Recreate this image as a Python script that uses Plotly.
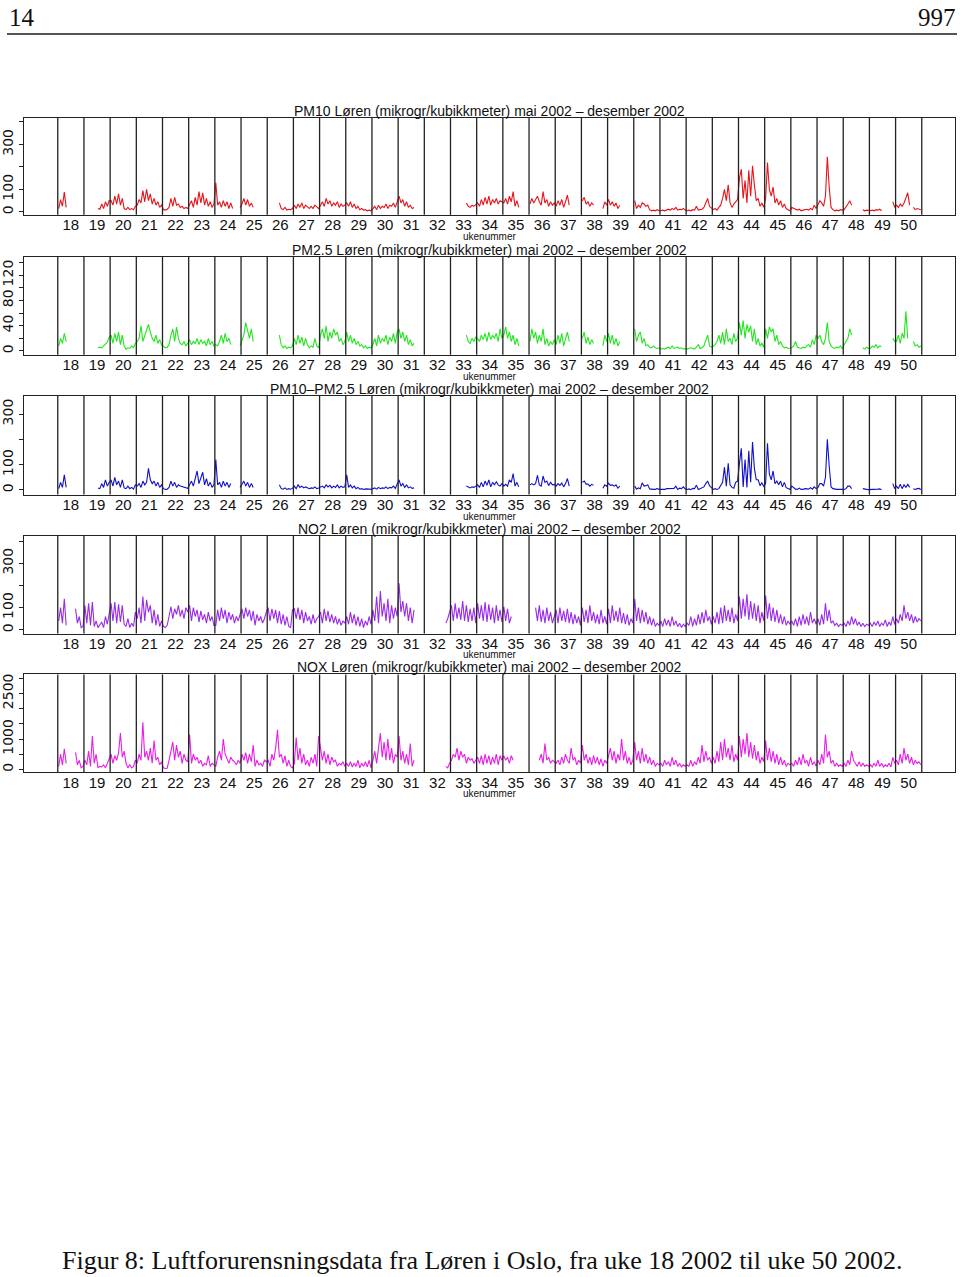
import plotly.graph_objects as go

FIRST_WEEK = 18
LAST_WEEK = 50
SLOTS = 14  # half-day readings per week, "." = missing

WEEK_LABELS = [str(w) for w in range(FIRST_WEEK, LAST_WEEK + 1)]

PM10 = [
    "15 55 25 88 20 . . . . . . . . .",
    ". . . . . . . 15 12 35 15 45 25 50",
    "50 30 70 35 80 30 60 15 10 20 10 15 10 25",
    "30 55 40 95 45 100 50 80 35 60 30 45 20 30",
    "10 8 12 20 60 25 65 30 35 20 25 15 20 15",
    "30 50 20 65 30 90 40 85 30 60 25 45 20 35",
    "130 30 45 20 50 25 45 15 40 15 . . . 20",
    "35 60 30 55 25 40 20 . . . . . . .",
    ". . . . . . 40 15 10 20 8 12 10 15",
    "30 15 35 20 40 15 30 20 15 25 15 30 20 15",
    "30 45 25 60 35 50 25 40 30 45 20 35 25 30",
    "40 25 45 20 35 15 25 10 15 8 10 5 8 5",
    "15 25 10 30 15 25 20 35 15 30 25 40 20 45",
    "70 40 55 25 45 20 30 15 20 . . . . .",
    ". . . . . . . . . . . . . .",
    ". . . . . . . . 40 25 20 30 25 35",
    "40 25 55 30 65 35 70 30 55 40 60 35 50 45",
    "40 60 35 70 45 90 25 50 20 . . . . .",
    "35 60 40 55 70 45 30 90 40 55 25 45 30 40",
    "25 50 30 55 20 45 75 30 . . . . . .",
    "50 65 35 45 25 40 30 . . . . 15 45 30",
    "55 30 45 25 40 15 30 . . . . . . .",
    "50 15 30 20 40 35 25 30 10 5 8 5 10 5",
    "5 8 5 10 12 8 15 10 20 8 12 10 15 8",
    "5 8 5 10 8 25 8 10 12 20 40 60 25 15",
    "10 15 8 20 30 60 100 50 120 40 20 35 45 55",
    "150 190 60 140 40 185 70 205 120 50 60 25 40 20",
    "60 220 100 70 110 40 60 30 50 20 35 15 10 5",
    "20 15 10 8 12 5 8 10 12 8 15 10 30 15",
    "30 50 40 25 70 245 110 20 10 5 8 5 10 8",
    "10 20 35 50 30 . . . . . 10 5 8 5",
    "5 8 5 10 8 12 5 . . . . . 45 20",
    "30 20 35 25 40 60 85 30 . 20 10 15 12 10",
]

PM25 = [
    "8 20 12 28 15 . . . . . . . . .",
    ". . . . . . . 5 6 5 8 10 14 22",
    "25 12 28 15 30 10 25 8 3 5 4 8 5 12",
    "15 20 40 15 25 35 42 30 20 15 25 12 18 10",
    "8 5 6 10 25 35 15 38 20 12 10 15 8 12",
    "18 10 15 12 20 10 18 12 15 8 20 10 15 8",
    "10 8 15 25 12 28 15 20 10 . . . . 8",
    "15 25 45 30 20 35 15 . . . . . . .",
    ". . . . . . 25 10 5 8 4 6 5 8",
    "20 10 25 12 22 8 20 10 5 8 6 20 8 5",
    "25 35 20 40 15 30 20 35 25 30 15 20 10 15",
    "30 15 25 12 20 10 15 8 10 5 8 4 6 5",
    "10 20 8 25 12 20 15 25 10 22 15 28 12 30",
    "35 20 30 15 25 10 18 8 12 . . . . .",
    ". . . . . . . . . . . . . .",
    ". . . . . . . . 25 15 12 20 15 22",
    "20 15 25 18 28 15 30 18 25 20 28 15 35 20",
    "25 38 20 30 15 25 10 20 8 . . . . .",
    "15 35 20 30 12 25 15 35 10 20 8 15 10 18",
    "10 25 12 28 8 20 30 15 . . . . . .",
    "20 30 12 22 10 18 12 . . . . 8 25 15",
    "28 12 25 10 20 8 15 . . . . . . .",
    "35 15 25 30 12 20 8 10 6 5 8 5 4 5",
    "3 4 3 5 6 4 8 4 5 6 4 5 3 4",
    "3 4 5 4 3 6 10 4 5 8 15 25 8 6",
    "8 10 15 25 12 30 10 35 15 20 10 28 15 20",
    "45 25 48 20 42 30 40 15 35 10 20 8 12 6",
    "35 20 38 30 35 15 25 10 15 8 5 6 4 5",
    "5 8 15 6 5 4 6 5 8 10 6 18 10 25",
    "20 25 15 10 20 45 15 8 5 4 6 5 8 4",
    "10 15 20 35 25 . . . . . 5 3 6 4",
    "4 8 6 10 5 8 7 . . . . . 20 15",
    "15 25 12 28 20 63 20 . . 15 8 10 6 8",
]

PM_COARSE = [
    "5 30 10 60 10 . . . . . . . . .",
    ". . . . . . . 8 5 25 10 40 15 30",
    "40 15 50 20 35 10 40 8 5 15 5 10 3 20",
    "15 25 10 35 20 30 85 40 25 35 15 30 10 20",
    "5 2 3 10 35 15 30 10 20 15 12 10 8 6",
    "20 35 15 40 75 25 50 70 20 45 15 30 10 20",
    "120 20 30 10 35 15 30 10 25 . . . . 10",
    "20 35 15 30 10 25 10 . . . . . . .",
    ". . . . . . 20 5 3 8 2 5 3 6",
    "15 5 20 10 15 8 12 10 5 8 6 12 5 8",
    "10 15 8 20 12 18 8 15 10 20 8 15 10 12",
    "60 10 20 8 15 5 10 3 5 2 4 2 3 2",
    "5 8 3 10 5 8 6 12 5 10 8 15 6 20",
    "40 15 25 10 20 8 12 6 8 . . . . .",
    ". . . . . . . . . . . . . .",
    ". . . . . . . . 15 10 8 12 10 15",
    "20 10 30 12 35 18 40 12 30 20 32 20 15 25",
    "15 22 15 40 30 65 15 30 12 . . . . .",
    "20 25 20 25 58 20 15 55 30 35 17 30 20 22",
    "15 25 18 27 12 25 45 15 . . . . . .",
    "30 35 23 23 15 22 18 . . . . 7 20 15",
    "27 18 20 15 20 7 15 . . . . . . .",
    "15 3 8 5 28 15 17 20 4 2 2 2 6 2",
    "2 4 2 5 6 4 7 6 15 2 7 5 12 4",
    "2 4 1 6 5 19 2 6 7 12 25 35 17 9",
    "2 5 2 5 18 30 90 15 105 20 10 7 30 35",
    "105 165 12 120 10 155 30 190 85 40 40 17 28 14",
    "25 185 62 40 75 25 35 20 35 12 30 9 6 2",
    "15 7 3 2 7 2 2 5 4 3 9 3 12 5",
    "10 25 25 15 50 200 95 12 5 2 2 2 2 4",
    "2 5 15 15 5 . . . . . 5 2 2 1",
    "1 2 1 2 3 4 1 . . . . . 25 5",
    "15 5 23 5 20 10 22 10 . 5 2 5 6 2",
]

NO2 = [
    "40 100 30 140 20 . . . . 95 30 60 10 15",
    "110 30 120 20 125 15 40 10 20 35 10 60 25 70",
    "120 40 125 30 115 35 110 25 15 50 10 30 15 80",
    "50 100 30 150 40 135 80 110 30 90 20 70 15 40",
    "15 10 20 60 105 50 95 70 110 60 90 50 100 80",
    "110 40 100 60 90 35 85 45 70 30 80 40 60 20",
    "20 90 40 100 50 90 30 80 45 70 30 60 40 70",
    "95 50 100 60 90 40 85 20 70 40 60 30 50 80",
    "100 40 95 50 90 30 85 25 70 20 60 15 10 90",
    "95 50 100 45 90 30 80 40 60 25 70 30 50 60",
    "80 30 95 40 85 35 70 30 60 25 50 20 40 30",
    "60 25 80 30 70 20 60 15 50 10 40 20 60 25",
    "90 40 150 30 175 60 120 40 140 30 110 50 100 60",
    "210 80 130 60 120 40 100 30 90 . . . . .",
    ". . . . . . . . . . . 30 50 80",
    "110 40 120 50 100 45 130 40 110 35 95 40 100 30",
    "120 50 110 40 125 35 115 45 100 30 110 40 90 35",
    "105 40 95 30 60 . . . . . . . . .",
    ". . . 100 40 110 35 90 30 100 40 80 30 60",
    "90 30 100 40 85 35 95 30 80 25 70 30 60 20",
    "100 35 90 30 110 40 80 30 70 25 90 30 60 25",
    "95 30 110 40 85 35 100 30 75 25 70 20 50 30",
    "140 40 100 30 90 35 80 25 60 20 50 15 30 20",
    "40 15 50 20 45 15 60 20 40 15 30 10 25 15",
    "30 20 60 15 50 20 70 25 80 30 90 40 60 25",
    "60 30 80 25 100 30 110 40 90 35 100 30 70 40",
    "150 50 140 60 160 45 130 50 120 40 110 30 80 40",
    "155 50 120 40 100 35 90 30 70 25 60 20 40 25",
    "40 20 50 15 60 20 70 25 60 20 80 30 50 25",
    "50 20 70 25 120 40 90 30 40 20 30 15 25 20",
    "30 15 40 20 60 25 50 20 35 15 30 15 25 20",
    "30 15 35 20 40 15 30 20 45 15 35 20 60 25",
    "50 30 70 40 110 50 80 40 70 30 60 35 50 40",
]

NOX = [
    "100 500 150 680 200 . . . . 560 150 300 50 100",
    "300 150 600 100 1100 200 500 50 100 80 150 50 200 300",
    "500 200 450 300 550 1200 400 600 200 50 150 50 100 300",
    "200 500 300 1550 400 600 300 700 200 950 300 400 150 250",
    "50 30 40 300 600 900 300 800 400 600 200 500 300 250",
    "1150 200 500 300 400 200 300 100 200 150 450 100 200 150",
    "100 400 600 300 1000 500 350 200 400 300 250 150 300 200",
    "500 300 550 200 500 250 800 100 300 150 200 100 300 250",
    "300 100 500 300 700 1300 400 500 200 450 100 300 100 50",
    "200 1050 300 700 200 500 150 300 100 400 200 500 100 1100",
    "700 300 600 200 500 150 400 250 300 100 200 150 250 100",
    "200 100 250 80 200 100 300 50 200 100 250 80 300 50",
    "300 600 200 800 1200 400 900 300 1000 300 700 200 500 400",
    "1100 300 600 200 500 150 850 100 300 . . . . .",
    ". . . . . . . . . . . 100 50 200",
    "300 500 400 700 300 600 400 500 200 400 300 350 200 300",
    "400 200 450 150 500 200 450 150 400 200 500 150 450 300",
    "450 300 400 200 450 300 . . . . . . . .",
    ". . . . . 300 500 200 850 300 400 200 300 250",
    "200 300 150 400 200 500 300 200 700 300 400 150 300 200",
    "800 300 500 200 400 150 450 200 400 150 350 100 300 200",
    "500 700 300 600 200 500 300 1000 300 600 200 400 150 300",
    "900 300 600 200 700 250 500 200 400 150 300 100 200 150",
    "200 100 300 150 250 100 400 150 300 100 200 80 150 100",
    "150 100 300 100 250 150 400 200 800 250 600 300 400 200",
    "400 200 600 250 900 300 1000 400 700 300 800 250 500 300",
    "1100 400 1000 500 1200 400 900 350 800 300 600 200 400 250",
    "950 300 700 250 600 200 500 150 400 150 300 100 200 150",
    "200 100 300 150 400 150 500 200 300 100 400 150 250 100",
    "300 150 500 200 1150 400 600 200 300 100 200 100 150 100",
    "200 100 300 150 600 300 200 100 250 100 200 100 150 100",
    "150 80 200 100 300 100 200 80 150 100 200 80 400 200",
    "300 150 500 200 700 300 500 200 400 150 300 200 250 150",
]

TITLES = [
    "PM10 Løren (mikrogr/kubikkmeter) mai 2002 – desember 2002",
    "PM2.5 Løren (mikrogr/kubikkmeter) mai 2002 – desember 2002",
    "PM10–PM2.5 Løren (mikrogr/kubikkmeter) mai 2002 – desember 2002",
    "NO2 Løren (mikrogr/kubikkmeter) mai 2002 – desember 2002",
    "NOX Løren (mikrogr/kubikkmeter) mai 2002 – desember 2002",
]
SERIES = [PM10, PM25, PM_COARSE, NO2, NOX]
COLORS = ["#e8141c", "#22e61e", "#1010c8", "#9a2be8", "#e81ee8"]

Y_TICKVALS = [
    [0, 100, 200, 300, 400],
    [0, 20, 40, 60, 80, 100, 120, 140],
    [0, 100, 200, 300],
    [0, 100, 200, 300, 400],
    [0, 500, 1000, 1500, 2000, 2500, 3000],
]
Y_TICKTEXT = [
    ["0", "100", "", "300", ""],
    ["0", "", "40", "", "80", "", "120", ""],
    ["0", "100", "", "300"],
    ["0", "100", "", "300", ""],
    ["0", "", "1000", "", "", "2500", ""],
]
Y_RANGES = [(-13, 418), (-5.9, 149), (-18.6, 373), (-16.7, 425), (-99, 3125)]

# pixel box (top, bottom) of each panel in the 960x1277 page
BOXES = [(117, 214), (256, 354), (395, 494), (535, 633), (674, 772)]
W, H = 960, 1277
X_LEFT, X_RIGHT = 20, 955
X_RANGE = (16.707, 52.27)

SANS = "Liberation Sans, Arial, sans-serif"
SERIF = "Liberation Serif, DejaVu Serif, serif"


def week_series(rows):
    xs, ys = [], []
    for i, row in enumerate(rows):
        wk = FIRST_WEEK + i
        for j, tok in enumerate(row.split()):
            xs.append(wk + (j + 0.5) / SLOTS)
            ys.append(None if tok == "." else float(tok))
    return xs, ys


fig = go.Figure()
shapes = []
annotations = []
layout = {}

for k, (rows, color) in enumerate(zip(SERIES, COLORS)):
    n = k + 1
    xname = "x" if n == 1 else f"x{n}"
    yname = "y" if n == 1 else f"y{n}"
    xs, ys = week_series(rows)
    fig.add_trace(
        go.Scatter(
            x=xs, y=ys, mode="lines", xaxis=xname, yaxis=yname,
            line=dict(color=color, width=1.1), connectgaps=False,
            showlegend=False, hoverinfo="skip",
        )
    )
    top, bot = BOXES[k]
    axis_line = dict(showline=True, mirror=True, linecolor="#222", linewidth=1.3,
                     showgrid=False, zeroline=False)
    layout["xaxis" if n == 1 else f"xaxis{n}"] = dict(
        domain=[X_LEFT / W, X_RIGHT / W], range=list(X_RANGE), anchor=yname,
        tickvals=[w + 0.5 for w in range(FIRST_WEEK, LAST_WEEK + 1)],
        ticktext=WEEK_LABELS, ticks="", ticklabelstandoff=-4,
        tickfont=dict(family=SANS, size=15, color="#111"), **axis_line,
    )
    layout["yaxis" if n == 1 else f"yaxis{n}"] = dict(
        domain=[1 - bot / H, 1 - top / H], range=list(Y_RANGES[k]), anchor=xname,
        tickvals=Y_TICKVALS[k], ticktext=Y_TICKTEXT[k], tickangle=-90,
        ticks="outside", ticklen=4, tickcolor="#222",
        tickfont=dict(family="DejaVu Sans, sans-serif", size=14, color="#111"),
        **axis_line,
    )
    for w in range(FIRST_WEEK, LAST_WEEK + 2):
        shapes.append(dict(type="line", xref=xname, yref=f"{yname} domain",
                           x0=w, x1=w, y0=0, y1=1,
                           line=dict(color="#222", width=1.3)))
    annotations.append(dict(
        text=TITLES[k], xref="paper", yref="paper", x=488 / W, y=1 - (top + 3) / H,
        xanchor="center", yanchor="bottom", showarrow=False,
        font=dict(family=SANS, size=14, color="#111"),
    ))
    annotations.append(dict(
        text="ukenummer", xref="paper", yref="paper", x=488 / W, y=1 - (bot + 14) / H,
        xanchor="center", yanchor="top", showarrow=False,
        font=dict(family=SANS, size=10, color="#111"),
    ))

# page header and caption
annotations += [
    dict(text="14", xref="paper", yref="paper", x=3 / W, y=1 - 1 / H,
         xanchor="left", yanchor="top", showarrow=False,
         font=dict(family=SERIF, size=25, color="#111")),
    dict(text="997", xref="paper", yref="paper", x=958 / W, y=1 - 1 / H,
         xanchor="right", yanchor="top", showarrow=False,
         font=dict(family=SERIF, size=25, color="#111")),
    dict(text="Figur 8: Luftforurensningsdata fra Løren i Oslo, fra uke 18 2002 til uke 50 2002.",
         xref="paper", yref="paper", x=480 / W, y=1 - 1260 / H,
         xanchor="center", yanchor="middle", showarrow=False,
         font=dict(family=SERIF, size=26, color="#111")),
]
shapes.append(dict(type="line", xref="paper", yref="paper", x0=3 / W, x1=957 / W,
                   y0=1 - 33 / H, y1=1 - 33 / H, line=dict(color="#555", width=2)))

fig.update_layout(
    width=W, height=H, margin=dict(l=0, r=0, t=0, b=0),
    paper_bgcolor="white", plot_bgcolor="white",
    shapes=shapes, annotations=annotations, **layout,
)

# the page's default body margin would push the fixed-size figure off screen
fig.write_html("out.html", config={"displayModeBar": False},
               post_script="document.body.style.margin='0';")
